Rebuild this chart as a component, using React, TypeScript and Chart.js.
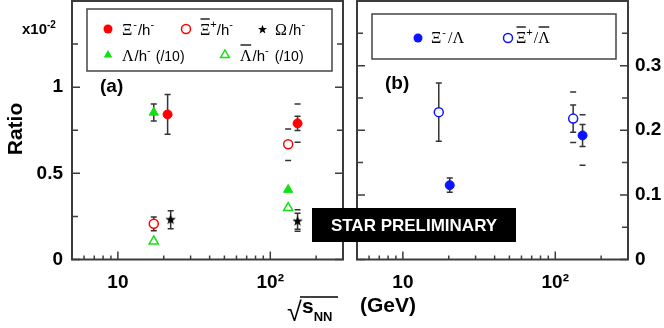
import React, { useEffect, useRef } from 'react';
import { Chart, registerables } from 'chart.js';
Chart.register(...registerables);

const SANS = '"Liberation Sans", Arial, sans-serif';
const SERIF = '"Liberation Serif", "Times New Roman", serif';
const RED = '#ff0000';
const GREEN = '#11e011';
const BLUE = '#0a14ff';
const AXIS = '#3c3c3c';
const ERR = '#333333';

// ---------- axis definitions ----------
const X_MIN = 5;
const X_MAX = 300;
const xLabelTicks = [10, 100];
const xLabelText = ['10', '10\u00b2'];
const xMinorTicks = [6, 7, 8, 9, 20, 30, 40, 50, 60, 70, 80, 90, 200];

const yAMax = 1.5;
const yAMajor = [0, 0.5, 1];
const yALabels = ['0', '0.5', '1'];
const yAMinor = [0.25, 0.75, 1.25];

const yBMax = 0.4;
const yBMajor = [0, 0.1, 0.2, 0.3];
const yBLabels = ['0', '0.1', '0.2', '0.3'];
const yBMinor = [0.05, 0.15, 0.25, 0.35];

// ---------- panel (a) data ----------
const xiMinusX = [21.2, 151];
const xiMinusY = [0.842, 0.79];
const xiMinusStat = [0.115, 0.041];
const xiMinusSysHi = [null, 0.112];
const xiMinusSysLo = [null, 0.11];

const xiPlusBarX = [17.2, 131];
const xiPlusBarY = [0.207, 0.669];
const xiPlusBarStat = [0.04, 0];
const xiPlusBarSysHi = [null, 0.088];
const xiPlusBarSysLo = [null, 0.095];

const omegaX = [22.2, 151];
const omegaY = [0.231, 0.222];
const omegaStat = [0.052, 0.046];
const omegaSysHi = [null, 0.067];
const omegaSysLo = [null, 0.058];

const lambdaX = [17.2, 131];
const lambdaY = [0.853, 0.405];
const lambdaStat = [0.05, 0];

const lambdaBarX = [17.2, 131];
const lambdaBarY = [0.106, 0.3];

// ---------- panel (b) data ----------
const xiLambdaX = [20.3, 151];
const xiLambdaY = [0.115, 0.192];
const xiLambdaStat = [0.011, 0.017];
const xiLambdaSysHi = [null, 0.032];
const xiLambdaSysLo = [null, 0.046];

const xiBarLambdaBarX = [17.2, 131];
const xiBarLambdaBarY = [0.228, 0.218];
const xiBarLambdaBarStat = [0.045, 0.021];
const xiBarLambdaBarSysHi = [null, 0.041];
const xiBarLambdaBarSysLo = [null, 0.037];

const pts = (xs: number[], ys: number[]) => xs.map((x, i) => ({ x, y: ys[i] }));

function makeStar(size: number, outer: number, inner: number): HTMLCanvasElement {
  const c = document.createElement('canvas');
  c.width = size;
  c.height = size;
  const ctx = c.getContext('2d')!;
  ctx.fillStyle = '#000';
  ctx.beginPath();
  for (let i = 0; i < 10; i++) {
    const r = i % 2 === 0 ? outer : inner;
    const a = -Math.PI / 2 + (i * Math.PI) / 5;
    const px = size / 2 + r * Math.cos(a);
    const py = size / 2 + r * Math.sin(a);
    if (i === 0) ctx.moveTo(px, py);
    else ctx.lineTo(px, py);
  }
  ctx.closePath();
  ctx.fill();
  return c;
}

type Seg = { t: string; f: string; dy?: number; dx?: number; bar?: boolean };
function drawRich(ctx: CanvasRenderingContext2D, x: number, y: number, segs: Seg[]) {
  let cx = x;
  ctx.textBaseline = 'alphabetic';
  ctx.textAlign = 'left';
  for (const s of segs) {
    cx += s.dx || 0;
    ctx.font = s.f;
    const w = ctx.measureText(s.t).width;
    ctx.fillText(s.t, cx, y + (s.dy || 0));
    if (s.bar) {
      ctx.save();
      ctx.strokeStyle = ctx.fillStyle as string;
      ctx.lineWidth = 1.3;
      ctx.beginPath();
      ctx.moveTo(cx + 0.5, y - 16);
      ctx.lineTo(cx + w - 0.5, y - 16);
      ctx.stroke();
      ctx.restore();
    }
    cx += w;
  }
}

function mCircle(ctx: CanvasRenderingContext2D, x: number, y: number, color: string, filled: boolean) {
  ctx.beginPath();
  ctx.arc(x, y, 4.5, 0, Math.PI * 2);
  if (filled) {
    ctx.fillStyle = color;
    ctx.fill();
  } else {
    ctx.fillStyle = '#fff';
    ctx.fill();
    ctx.strokeStyle = color;
    ctx.lineWidth = 1.5;
    ctx.stroke();
  }
}
function mTri(ctx: CanvasRenderingContext2D, x: number, y: number, color: string, filled: boolean) {
  const r = 5;
  ctx.beginPath();
  ctx.moveTo(x, y - r);
  ctx.lineTo(x + r * 0.866, y + r * 0.5);
  ctx.lineTo(x - r * 0.866, y + r * 0.5);
  ctx.closePath();
  if (filled) {
    ctx.fillStyle = color;
    ctx.fill();
  } else {
    ctx.strokeStyle = color;
    ctx.lineWidth = 1.5;
    ctx.stroke();
  }
}

const errorBarPlugin = {
  id: 'errbars',
  beforeDatasetsDraw(chart: any) {
    const ctx = chart.ctx;
    const xs = chart.scales.x;
    const ys = chart.scales.y;
    ctx.save();
    ctx.strokeStyle = ERR;
    ctx.lineWidth = 1.5;
    chart.data.datasets.forEach((ds: any) => {
      ds.data.forEach((p: any, i: number) => {
        const px = xs.getPixelForValue(p.x);
        const st = ds.stat ? ds.stat[i] : 0;
        if (st) {
          const y1 = ys.getPixelForValue(p.y + st);
          const y2 = ys.getPixelForValue(p.y - st);
          ctx.beginPath();
          ctx.moveTo(px, y1);
          ctx.lineTo(px, y2);
          ctx.moveTo(px - 3, y1);
          ctx.lineTo(px + 3, y1);
          ctx.moveTo(px - 3, y2);
          ctx.lineTo(px + 3, y2);
          ctx.stroke();
        }
        if (ds.sysHi && ds.sysHi[i] != null) {
          const yh = ys.getPixelForValue(p.y + ds.sysHi[i]);
          const yl = ys.getPixelForValue(p.y - ds.sysLo[i]);
          ctx.beginPath();
          ctx.moveTo(px - 3, yh);
          ctx.lineTo(px + 3, yh);
          ctx.moveTo(px - 3, yl);
          ctx.lineTo(px + 3, yl);
          ctx.stroke();
        }
      });
    });
    ctx.restore();
  },
};

function framePlugin(yMajor: number[], yMinor: number[]) {
  return {
    id: 'frame',
    beforeDatasetsDraw(chart: any) {
      const ctx = chart.ctx;
      const a = chart.chartArea;
      const xs = chart.scales.x;
      const ys = chart.scales.y;
      ctx.save();
      ctx.strokeStyle = AXIS;
      ctx.lineWidth = 2;
      ctx.strokeRect(a.left, a.top, a.right - a.left, a.bottom - a.top);
      ctx.lineWidth = 1.5;
      ctx.beginPath();
      xLabelTicks.forEach((v) => {
        const px = xs.getPixelForValue(v);
        ctx.moveTo(px, a.bottom);
        ctx.lineTo(px, a.bottom - 8);
      });
      xMinorTicks.forEach((v) => {
        const px = xs.getPixelForValue(v);
        ctx.moveTo(px, a.bottom);
        ctx.lineTo(px, a.bottom - 4);
      });
      const yt = (v: number, len: number) => {
        const py = ys.getPixelForValue(v);
        ctx.moveTo(a.left, py);
        ctx.lineTo(a.left + len, py);
        ctx.moveTo(a.right, py);
        ctx.lineTo(a.right - len, py);
      };
      yMajor.forEach((v) => yt(v, 8));
      yMinor.forEach((v) => yt(v, 6));
      ctx.stroke();
      ctx.restore();
    },
  };
}

const textPluginA = {
  id: 'textA',
  afterDraw(chart: any) {
    const ctx = chart.ctx as CanvasRenderingContext2D;
    ctx.save();
    ctx.fillStyle = '#000';
    // Ratio
    ctx.save();
    ctx.translate(16, 129);
    ctx.rotate(-Math.PI / 2);
    ctx.font = `bold 21px ${SANS}`;
    ctx.textAlign = 'center';
    ctx.textBaseline = 'middle';
    ctx.fillText('Ratio', 0, 0);
    ctx.restore();
    // x10^-2
    drawRich(ctx, 22, 34, [
      { t: 'x10', f: `bold 15px ${SANS}` },
      { t: '-2', f: `bold 10px ${SANS}`, dy: -6 },
    ]);
    // (a)
    ctx.font = `bold 19px ${SANS}`;
    ctx.fillText('(a)', 100, 92);
    // legend box
    ctx.strokeStyle = '#444';
    ctx.lineWidth = 1.5;
    ctx.fillStyle = '#fff';
    ctx.fillRect(87, 9, 245, 62);
    ctx.strokeRect(87, 9, 245, 62);
    ctx.fillStyle = '#000';
    const big = `16px ${SERIF}`;
    const h = `15px ${SANS}`;
    const sup = `11px ${SANS}`;
    mCircle(ctx, 108, 29, RED, true);
    ctx.fillStyle = '#000';
    drawRich(ctx, 122, 35, [
      { t: '\u039e', f: big },
      { t: '-', f: sup, dy: -7, dx: 1 },
      { t: '/h', f: h, dx: 1 },
      { t: '-', f: sup, dy: -7 },
    ]);
    mCircle(ctx, 186, 29, RED, false);
    ctx.fillStyle = '#000';
    drawRich(ctx, 200, 35, [
      { t: '\u039e', f: big, bar: true },
      { t: '+', f: sup, dy: -7 },
      { t: '/h', f: h },
      { t: '-', f: sup, dy: -7 },
    ]);
    ctx.drawImage(starImgSmall, 262 - 5, 29 - 5);
    drawRich(ctx, 275, 35, [
      { t: '\u03a9', f: big },
      { t: '/h', f: h, dx: 2 },
      { t: '-', f: sup, dy: -7 },
    ]);
    mTri(ctx, 108, 55, GREEN, true);
    ctx.fillStyle = '#000';
    drawRich(ctx, 122, 61, [
      { t: '\u039b', f: big },
      { t: '/h', f: h, dx: 1 },
      { t: '-', f: sup, dy: -7 },
      { t: '(/10)', f: `14px ${SANS}`, dx: 5 },
    ]);
    mTri(ctx, 225, 55, GREEN, false);
    ctx.fillStyle = '#000';
    drawRich(ctx, 240, 61, [
      { t: '\u039b', f: big, bar: true },
      { t: '/h', f: h, dx: 1 },
      { t: '-', f: sup, dy: -7 },
      { t: '(/10)', f: `14px ${SANS}`, dx: 6 },
    ]);
    ctx.restore();
  },
};

const textPluginB = {
  id: 'textB',
  afterDraw(chart: any) {
    const ctx = chart.ctx as CanvasRenderingContext2D;
    ctx.save();
    ctx.fillStyle = '#000';
    ctx.font = `bold 19px ${SANS}`;
    ctx.textBaseline = 'alphabetic';
    ctx.fillText('(b)', 385, 89);
    // legend box
    ctx.strokeStyle = '#444';
    ctx.lineWidth = 1.5;
    ctx.fillStyle = '#fff';
    ctx.fillRect(372, 14, 244, 45);
    ctx.strokeRect(372, 14, 244, 45);
    const big = `16px ${SERIF}`;
    const sup = `11px ${SANS}`;
    mCircle(ctx, 418, 38, BLUE, true);
    ctx.fillStyle = '#000';
    drawRich(ctx, 431, 43, [
      { t: '\u039e', f: big },
      { t: '-', f: sup, dy: -7, dx: 1 },
      { t: '/', f: big, dx: 2 },
      { t: '\u039b', f: big },
    ]);
    mCircle(ctx, 508, 38, BLUE, false);
    ctx.fillStyle = '#000';
    drawRich(ctx, 516, 43, [
      { t: '\u039e', f: big, bar: true },
      { t: '+', f: sup, dy: -7 },
      { t: '/', f: big, dx: 1 },
      { t: '\u039b', f: big, bar: true },
    ]);
    // STAR PRELIMINARY
    ctx.fillStyle = '#000';
    ctx.fillRect(312, 208, 204, 34);
    ctx.fillStyle = '#fff';
    ctx.font = `bold 17px ${SANS}`;
    ctx.textAlign = 'center';
    ctx.textBaseline = 'middle';
    ctx.fillText('STAR PRELIMINARY', 414, 226);
    // x title
    ctx.fillStyle = '#000';
    ctx.textAlign = 'left';
    ctx.textBaseline = 'alphabetic';
    ctx.font = `27px ${SANS}`;
    ctx.fillText('\u221a', 287, 321);
    ctx.strokeStyle = '#000';
    ctx.lineWidth = 1.5;
    ctx.beginPath();
    ctx.moveTo(300, 297);
    ctx.lineTo(338, 297);
    ctx.stroke();
    drawRich(ctx, 302, 313, [
      { t: 's', f: `bold 21px ${SANS}` },
      { t: 'NN', f: `bold 13px ${SANS}`, dy: 8 },
    ]);
    ctx.font = `bold 21px ${SANS}`;
    ctx.fillText('(GeV)', 360, 312);
    ctx.restore();
  },
};

let starImg: HTMLCanvasElement;
let starImgSmall: HTMLCanvasElement;

const tickFont = { family: SANS, size: 19, weight: 'bold' as const };

function xScale() {
  return {
    type: 'logarithmic' as const,
    min: X_MIN,
    max: X_MAX,
    position: 'bottom' as const,
    grid: { display: false, drawTicks: false },
    border: { display: false },
    afterBuildTicks: (s: any) => {
      s.ticks = xLabelTicks.map((v) => ({ value: v }));
    },
    afterFit: (s: any) => {
      s.height = 68.5;
      s.paddingLeft = 0;
      s.paddingRight = 0;
    },
    ticks: {
      autoSkip: false,
      maxRotation: 0,
      padding: 12,
      color: '#000',
      font: tickFont,
      callback: (v: number) => xLabelText[xLabelTicks.indexOf(v)] ?? '',
    },
  };
}

function yScale(max: number, major: number[], labels: string[], pos: 'left' | 'right', width: number, pad: number) {
  return {
    type: 'linear' as const,
    min: 0,
    max,
    position: pos,
    grid: { display: false, drawTicks: false },
    border: { display: false },
    afterBuildTicks: (s: any) => {
      s.ticks = major.map((v) => ({ value: v }));
    },
    afterFit: (s: any) => {
      s.width = width;
      s.paddingTop = 0;
      s.paddingBottom = 0;
    },
    ticks: {
      autoSkip: false,
      padding: pad,
      color: '#000',
      font: tickFont,
      callback: (v: number) => {
        const i = major.findIndex((m) => Math.abs(m - v) < 1e-9);
        return i >= 0 ? labels[i] : '';
      },
    },
  };
}

export default function App() {
  const refA = useRef<HTMLCanvasElement>(null);
  const refB = useRef<HTMLCanvasElement>(null);

  useEffect(() => {
    starImg = makeStar(13, 5.5, 2.3);
    starImgSmall = makeStar(11, 4.8, 2.0);
    const base = {
      responsive: false,
      animation: false as const,
      devicePixelRatio: 1,
      events: [] as any[],
      plugins: { legend: { display: false }, tooltip: { enabled: false } },
    };
    const chartA = new Chart(refA.current!, {
      type: 'scatter',
      data: {
        datasets: [
          { data: pts(lambdaBarX, lambdaBarY), pointStyle: 'triangle', pointRadius: 5.3, backgroundColor: '#fff', borderColor: GREEN, borderWidth: 1.5 } as any,
          { data: pts(lambdaX, lambdaY), pointStyle: 'triangle', pointRadius: 5.3, backgroundColor: GREEN, borderColor: GREEN, borderWidth: 1, stat: lambdaStat } as any,
          { data: pts(xiPlusBarX, xiPlusBarY), pointStyle: 'circle', pointRadius: 4.5, backgroundColor: '#fff', borderColor: RED, borderWidth: 1.5, stat: xiPlusBarStat, sysHi: xiPlusBarSysHi, sysLo: xiPlusBarSysLo } as any,
          { data: pts(xiMinusX, xiMinusY), pointStyle: 'circle', pointRadius: 4.5, backgroundColor: RED, borderColor: RED, borderWidth: 1, stat: xiMinusStat, sysHi: xiMinusSysHi, sysLo: xiMinusSysLo } as any,
          { data: pts(omegaX, omegaY), pointStyle: starImg, pointRadius: 5, backgroundColor: '#000', borderColor: '#000', stat: omegaStat, sysHi: omegaSysHi, sysLo: omegaSysLo } as any,
        ],
      },
      options: {
        ...base,
        layout: { autoPadding: false, padding: { left: 0, right: 664 - 343, top: 1, bottom: 0 } },
        scales: {
          x: xScale() as any,
          y: yScale(yAMax, yAMajor, yALabels, 'left', 72, 9) as any,
        },
      },
      plugins: [framePlugin(yAMajor, yAMinor), errorBarPlugin, textPluginA],
    });
    const chartB = new Chart(refB.current!, {
      type: 'scatter',
      data: {
        datasets: [
          { data: pts(xiBarLambdaBarX, xiBarLambdaBarY), pointStyle: 'circle', pointRadius: 4.5, backgroundColor: '#fff', borderColor: BLUE, borderWidth: 1.5, stat: xiBarLambdaBarStat, sysHi: xiBarLambdaBarSysHi, sysLo: xiBarLambdaBarSysLo } as any,
          { data: pts(xiLambdaX, xiLambdaY), pointStyle: 'circle', pointRadius: 4.5, backgroundColor: BLUE, borderColor: BLUE, borderWidth: 1, stat: xiLambdaStat, sysHi: xiLambdaSysHi, sysLo: xiLambdaSysLo } as any,
        ],
      },
      options: {
        ...base,
        layout: { autoPadding: false, padding: { left: 357, right: 0, top: 1, bottom: 0 } },
        scales: {
          x: xScale() as any,
          y: yScale(yBMax, yBMajor, yBLabels, 'right', 36, 7) as any,
        },
      },
      plugins: [framePlugin(yBMajor, yBMinor), errorBarPlugin, textPluginB],
    });
    return () => {
      chartA.destroy();
      chartB.destroy();
    };
  }, []);

  const cs: React.CSSProperties = { position: 'absolute', left: 0, top: 0, width: 664, height: 328 };
  return (
    <div style={{ position: 'absolute', left: 0, top: 0, width: 664, height: 328, background: '#fff' }}>
      <canvas ref={refA} width={664} height={328} style={cs} />
      <canvas ref={refB} width={664} height={328} style={cs} />
    </div>
  );
}
